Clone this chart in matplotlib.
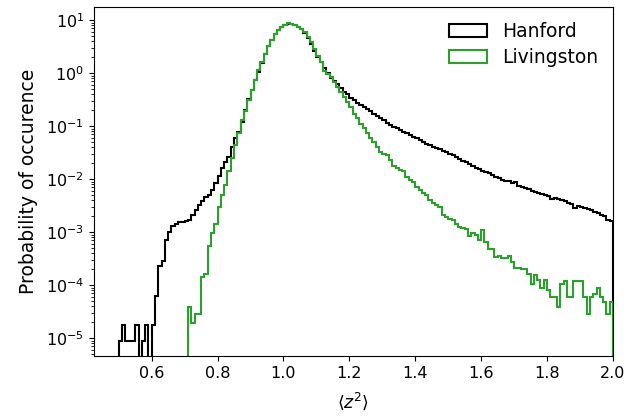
import numpy as np
import matplotlib
matplotlib.use('Agg')
import matplotlib.pyplot as plt

# bins of width 0.01 from 0.50 to 2.00
bin_edges = np.round(np.arange(0.50, 2.0001, 0.01), 2)

hanford = [
    8.7e-6, 1.74e-5, 8.7e-6, 8.7e-6, 8.7e-6, 1.74e-5, 0, 8.7e-6, 1.74e-5, 0,          # 0.50
    1.74e-5, 6.3e-5, 2.3e-4, 2.8e-4, 7.2e-4, 1.0e-3, 1.3e-3, 1.45e-3, 1.55e-3, 1.55e-3,  # 0.60
    1.6e-3, 1.7e-3, 2.1e-3, 2.6e-3, 3.2e-3, 3.8e-3, 4.6e-3, 5.0e-3, 6.2e-3, 8.5e-3,   # 0.70
    1.15e-2, 1.6e-2, 2.1e-2, 2.6e-2, 4.0e-2, 5.9e-2, 7.8e-2, 0.12, 0.20, 0.32,        # 0.80
    0.49, 0.74, 1.06, 1.57, 2.3, 3.2, 4.2, 5.4, 6.5, 7.5,                             # 0.90
    8.3, 8.6, 8.5, 8.0, 7.4, 6.7, 5.8, 4.7, 3.5, 2.6,                                 # 1.00
    2.0, 1.65, 1.23, 0.99, 0.82, 0.72, 0.62, 0.52, 0.45, 0.40,                        # 1.10
    0.34, 0.31, 0.28, 0.255, 0.23, 0.21, 0.19, 0.17, 0.155, 0.14,                     # 1.20
    0.13, 0.117, 0.105, 0.098, 0.091, 0.085, 0.079, 0.073, 0.068, 0.063,              # 1.30
    0.059, 0.055, 0.051, 0.047, 0.044, 0.041, 0.039, 0.037, 0.034, 0.032,             # 1.40
    0.030, 0.028, 0.026, 0.024, 0.022, 0.021, 0.019, 0.018, 0.0165, 0.0155,           # 1.50
    0.0145, 0.0138, 0.013, 0.012, 0.0112, 0.0105, 0.0098, 0.0093, 0.0092, 0.0085,     # 1.60
    0.0088, 0.0076, 0.0071, 0.0068, 0.0065, 0.006, 0.0058, 0.0056, 0.0052, 0.005,     # 1.70
    0.0049, 0.0042, 0.0045, 0.0043, 0.004, 0.0038, 0.0036, 0.0034, 0.0028, 0.0031,   # 1.80
    0.003, 0.0029, 0.0027, 0.0026, 0.0024, 0.0023, 0.0021, 0.002, 0.0017, 0.0016,     # 1.90
]

livingston = [
    0, 0, 0, 0, 0, 0, 0, 0, 0, 0,                                                     # 0.50
    0, 0, 0, 0, 0, 0, 0, 0, 0, 0,                                                     # 0.60
    0, 3.9e-5, 1.95e-5, 2.8e-5, 2.8e-5, 1.45e-4, 1.65e-4, 5.6e-4, 9.5e-4, 1.45e-3,    # 0.70
    3.0e-3, 5.0e-3, 7.7e-3, 1.4e-2, 2.5e-2, 4.4e-2, 7.3e-2, 0.13, 0.19, 0.31,         # 0.80
    0.49, 0.74, 1.14, 1.6, 2.35, 3.2, 4.2, 5.4, 6.5, 7.5,                             # 0.90
    8.3, 8.7, 8.5, 8.0, 7.5, 6.9, 6.0, 4.9, 3.8, 2.9,                                 # 1.00
    2.15, 1.6, 1.1, 0.95, 0.85, 0.69, 0.55, 0.44, 0.36, 0.29,                         # 1.10
    0.23, 0.17, 0.14, 0.11, 0.091, 0.073, 0.059, 0.051, 0.041, 0.033,                 # 1.20
    0.030, 0.028, 0.023, 0.018, 0.016, 0.015, 0.014, 0.011, 0.0095, 0.0089,           # 1.30
    0.0071, 0.0062, 0.0056, 0.005, 0.004, 0.0036, 0.0032, 0.0030, 0.0021, 0.0019,     # 1.40
    0.0018, 0.0017, 0.00145, 0.00125, 0.0012, 0.00115, 0.00085, 0.00095, 0.0009, 0.0007,  # 1.50
    0.0011, 0.00066, 0.00049, 0.00049, 0.00034, 0.00036, 0.00032, 0.00032, 0.00036, 0.00027,  # 1.60
    0.00021, 0.00021, 0.0002, 0.0002, 0.000165, 0.000107, 0.000155, 0.000123, 0.000087, 0.000123,  # 1.70
    0.000081, 0.000059, 0.000059, 0.000038, 0.000107, 0.00012, 0.000059, 0.000059, 0.00012, 0.00012,  # 1.80
    0.00012, 0.000059, 0.000029, 0.00006, 0.000069, 0.000087, 0.00006, 0.000049, 0.000029, 0.000049,  # 1.90
]

plt.rcParams['font.size'] = 11.5

centers = bin_edges[:-1] + 0.005

fig = plt.figure(figsize=(6.37, 4.16), dpi=100)
ax = fig.add_axes([0.1476, 0.1442, 0.8147, 0.8378])

ax.hist(centers, bins=bin_edges, weights=hanford, histtype='step', color='black',
        linewidth=1.5, log=True, label='Hanford')
ax.hist(centers, bins=bin_edges, weights=livingston, histtype='step', color='tab:green',
        linewidth=1.5, log=True, label='Livingston')

ax.set_xlim(0.425, 2.0)
ax.set_ylim(4.6e-6, 17.4)
ax.set_xlabel(r'$\langle z^2 \rangle$', fontsize=12.5, labelpad=7)
ax.set_ylabel('Probability of occurence', fontsize=13.5, labelpad=6)
ax.legend(loc='upper right', frameon=False, fontsize=13.5, borderaxespad=0.4,
          labelspacing=0.35)

fig.savefig('out.png', dpi=100)
